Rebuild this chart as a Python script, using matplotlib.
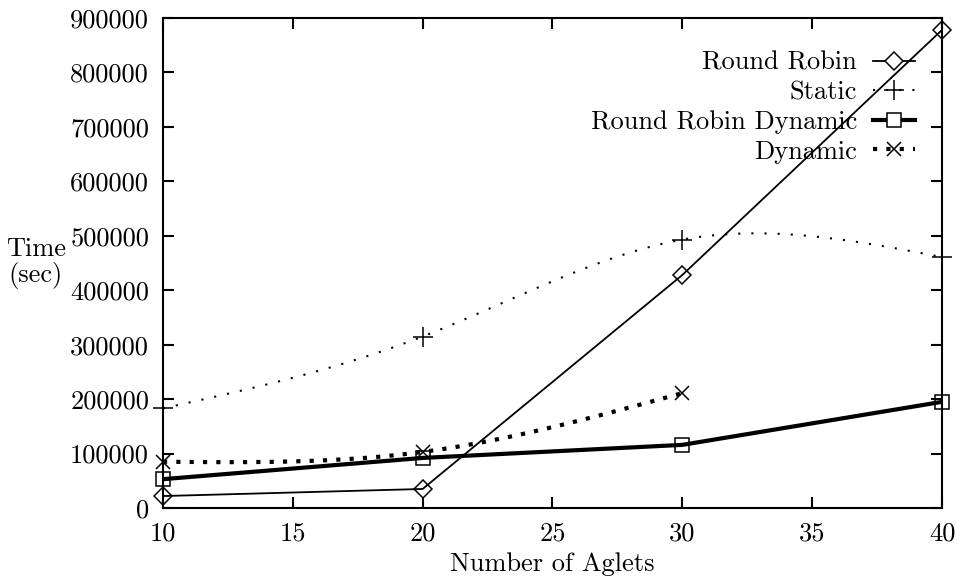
import numpy as np
import matplotlib
matplotlib.use('Agg')
import matplotlib.pyplot as plt
from matplotlib.lines import Line2D

# ----- datos -----
aglets = [10, 20, 30, 40]
round_robin = [22000, 35000, 428000, 878000]
static = [183000, 315000, 493000, 461000]
rr_dynamic = [53000, 92000, 116000, 195000]
dynamic_x = [10, 20, 30]
dynamic = [85000, 103000, 211000]

x_ticks = [10, 15, 20, 25, 30, 35, 40]
y_ticks = [0, 100000, 200000, 300000, 400000, 500000, 600000, 700000, 800000, 900000]

plt.rcParams['font.family'] = ['cmr10', 'DejaVu Serif']
plt.rcParams['axes.formatter.use_mathtext'] = True


# spline cubica natural (como "smooth csplines" de gnuplot), solo para dibujar la curva
def natural_spline(x, y, n=300):
    x = np.asarray(x, float)
    y = np.asarray(y, float)
    m = len(x)
    h = np.diff(x)
    A = np.zeros((m, m))
    b = np.zeros(m)
    A[0, 0] = A[-1, -1] = 1
    for i in range(1, m - 1):
        A[i, i - 1] = h[i - 1]
        A[i, i] = 2 * (h[i - 1] + h[i])
        A[i, i + 1] = h[i]
        b[i] = 6 * ((y[i + 1] - y[i]) / h[i] - (y[i] - y[i - 1]) / h[i - 1])
    M = np.linalg.solve(A, b)
    xs = np.linspace(x[0], x[-1], n)
    k = np.clip(np.searchsorted(x, xs) - 1, 0, m - 2)
    hk = h[k]
    t1 = x[k + 1] - xs
    t0 = xs - x[k]
    ys = (M[k] * t1**3 + M[k + 1] * t0**3) / (6 * hk) \
        + (y[k] / hk - M[k] * hk / 6) * t1 + (y[k + 1] / hk - M[k + 1] * hk / 6) * t0
    return xs, ys


fig = plt.figure(figsize=(9.62, 5.82), dpi=100)
ax = fig.add_axes([0.1694, 0.1271, 0.8098, 0.8420])

static_ls = (0, (1, 5.3))
dyn_ls = (0, (1, 2.2))

# Round Robin
ax.plot(aglets, round_robin, color='black', lw=1.3)
ax.plot(aglets, round_robin, 'D', ms=9, mfc='none', mec='black', mew=1.1, clip_on=False)

# Static
sx, sy = natural_spline(aglets, static)
ax.plot(sx, sy, color='black', lw=1.5, linestyle=static_ls)
ax.plot(aglets, static, '+', ms=14, mec='black', mew=1.1, clip_on=False)

# Round Robin Dynamic
ax.plot(aglets, rr_dynamic, color='black', lw=3)
ax.plot(aglets, rr_dynamic, 's', ms=10, mfc='none', mec='black', mew=1.1, clip_on=False)

# Dynamic
dx, dy = natural_spline(dynamic_x, dynamic)
ax.plot(dx, dy, color='black', lw=3, linestyle=dyn_ls)
ax.plot(dynamic_x, dynamic, 'x', ms=10, mec='black', mew=1.1, clip_on=False)

ax.set_xlim(10, 40)
ax.set_ylim(0, 900000)
ax.set_xticks(x_ticks)
ax.set_yticks(y_ticks)
ax.set_xticklabels([str(v) for v in x_ticks])
ax.set_yticklabels([str(v) for v in y_ticks])
ax.tick_params(direction='in', length=8, width=1.5, labelsize=19, top=True, right=True)
ax.tick_params(axis='x', pad=10)
ax.tick_params(axis='y', pad=10)
for s in ax.spines.values():
    s.set_linewidth(1.5)

ax.set_xlabel('Number of Aglets', fontsize=19, labelpad=5)
fig.text(0.037, 0.548, 'Time\n(sec)', fontsize=19, ha='center', va='center', linespacing=1.05)

handles = [
    Line2D([], [], color='black', lw=1.3, marker='D', ms=9, mfc='white', mew=1.1),
    Line2D([], [], color='black', lw=1.5, linestyle=static_ls, marker='+', ms=14, mew=1.1),
    Line2D([], [], color='black', lw=3, marker='s', ms=10, mfc='white', mew=1.1),
    Line2D([], [], color='black', lw=3, linestyle=dyn_ls, marker='x', ms=10, mew=1.1),
]
labels = ['Round Robin', 'Static', 'Round Robin Dynamic', 'Dynamic']
leg = fig.legend(handles, labels, loc='upper right', bbox_to_anchor=(0.951, 0.912),
                 frameon=False, markerfirst=False, fontsize=19, handlelength=1.6,
                 handletextpad=0.6, labelspacing=0.22, borderpad=0, borderaxespad=0)
for t in leg.get_texts():
    t.set_ha('right')

fig.savefig('out.png', dpi=100)
